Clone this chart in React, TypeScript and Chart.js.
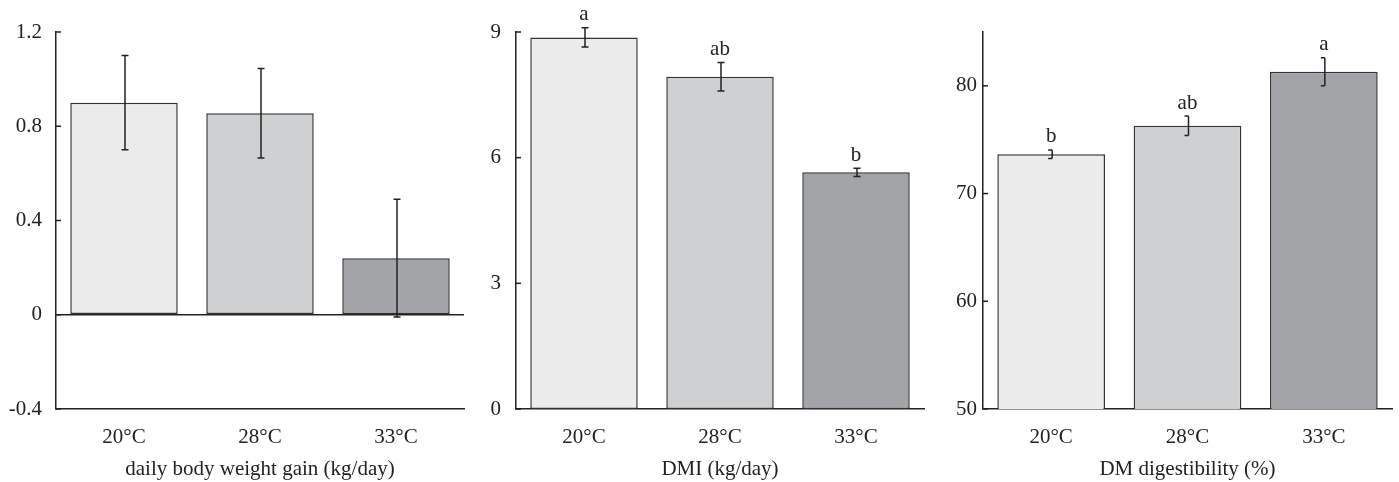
import React, { useEffect, useRef } from "react";
import { Chart, registerables } from "chart.js";

Chart.register(...registerables);

const categories = ["20°C", "28°C", "33°C"];
const barColors = ["#ececec", "#cfd0d2", "#a3a4a8"];

const gainValues = [0.9, 0.855, 0.24];
const gainErrors = [0.2, 0.19, 0.25];
const gainTicks = [-0.4, 0, 0.4, 0.8, 1.2];
const gainTickLabels = ["-0.4", "0", "0.4", "0.8", "1.2"];
const gainLetters = ["", "", ""];

const dmiValues = [8.87, 7.93, 5.65];
const dmiErrors = [0.23, 0.34, 0.1];
const dmiTicks = [0, 3, 6, 9];
const dmiTickLabels = ["0", "3", "6", "9"];
const dmiLetters = ["a", "ab", "b"];

const digValues = [73.65, 76.3, 81.3];
const digErrors = [0.4, 0.9, 1.3];
const digTicks = [50, 60, 70, 80];
const digTickLabels = ["50", "60", "70", "80"];
const digLetters = ["b", "ab", "a"];

const FONT = "'Liberation Serif', 'Times New Roman', serif";
const INK = "#222222";
const H = 482;
const FS = 21;

type Panel = {
  left: number;
  width: number;
  yWidth: number;
  padRight: number;
  min: number;
  max: number;
  ticks: number[];
  tickLabels: string[];
  labelPad: number;
  title: string;
  values: number[];
  errors: number[];
  letters: string[];
  zeroLine: boolean;
  halfCap: boolean;
};

const panels: Panel[] = [
  {
    left: 0, width: 470, yWidth: 56, padRight: 6, min: -0.4, max: 1.2,
    ticks: gainTicks, tickLabels: gainTickLabels, labelPad: 14,
    title: "daily body weight gain (kg/day)", values: gainValues, errors: gainErrors,
    letters: gainLetters, zeroLine: true, halfCap: false,
  },
  {
    left: 470, width: 460, yWidth: 46, padRight: 6, min: 0, max: 9,
    ticks: dmiTicks, tickLabels: dmiTickLabels, labelPad: 15,
    title: "DMI (kg/day)", values: dmiValues, errors: dmiErrors,
    letters: dmiLetters, zeroLine: false, halfCap: false,
  },
  {
    left: 930, width: 469, yWidth: 53, padRight: 7, min: 50, max: 85,
    ticks: digTicks, tickLabels: digTickLabels, labelPad: 6,
    title: "DM digestibility (%)", values: digValues, errors: digErrors,
    letters: digLetters, zeroLine: false, halfCap: true,
  },
];

function makeExtrasPlugin(p: Panel) {
  return {
    id: "extras",
    afterDraw(chart: any) {
      const ctx = chart.ctx;
      const ys = chart.scales.y;
      const area = chart.chartArea;
      ctx.save();
      ctx.strokeStyle = INK;
      ctx.lineWidth = 1.5;
      // inward tick marks
      ys.ticks.forEach((t: any) => {
        const py = ys.getPixelForValue(t.value);
        ctx.beginPath();
        ctx.moveTo(area.left, py);
        ctx.lineTo(area.left + 5, py);
        ctx.stroke();
      });
      // error bars and letters
      const meta = chart.getDatasetMeta(0);
      meta.data.forEach((el: any, i: number) => {
        const x = el.x + 1;
        const v = p.values[i];
        const e = p.errors[i];
        const yTop = ys.getPixelForValue(v + e);
        const yBot = ys.getPixelForValue(v - e);
        ctx.beginPath();
        ctx.moveTo(x, yTop);
        ctx.lineTo(x, yBot);
        if (p.halfCap) {
          ctx.moveTo(x - 4, yTop);
          ctx.lineTo(x, yTop);
          ctx.moveTo(x - 4, yBot);
          ctx.lineTo(x, yBot);
        } else {
          ctx.moveTo(x - 3.5, yTop);
          ctx.lineTo(x + 3.5, yTop);
          ctx.moveTo(x - 3.5, yBot);
          ctx.lineTo(x + 3.5, yBot);
        }
        ctx.stroke();
        const letter = p.letters[i];
        if (letter) {
          ctx.fillStyle = INK;
          ctx.font = `${FS}px ${FONT}`;
          ctx.textAlign = "center";
          ctx.textBaseline = "middle";
          ctx.fillText(letter, el.x, yTop - 13);
        }
      });
      ctx.restore();
    },
  };
}

function PanelChart({ p }: { p: Panel }) {
  const ref = useRef<HTMLCanvasElement | null>(null);
  useEffect(() => {
    if (!ref.current) return;
    const chart = new Chart(ref.current, {
      type: "bar",
      data: {
        labels: categories,
        datasets: [
          {
            data: p.values,
            backgroundColor: barColors,
            borderColor: "#333333",
            borderWidth: 1.5,
            borderSkipped: false,
            categoryPercentage: 1,
            barPercentage: 0.79,
          },
        ],
      },
      options: {
        responsive: false,
        animation: false,
        layout: { padding: { top: 32, right: p.padRight, left: 0, bottom: 0 } },
        plugins: { legend: { display: false }, tooltip: { enabled: false } },
        scales: {
          x: {
            grid: { display: false, drawTicks: false },
            border: { display: true, color: INK, width: 1.5 },
            ticks: { color: INK, font: { family: FONT, size: FS }, padding: 16, maxRotation: 0 },
            title: {
              display: true,
              text: p.title,
              color: INK,
              font: { family: FONT, size: FS },
              padding: { top: 0, bottom: 0 },
            },
            afterFit: (s: any) => { s.height = H - 409; },
          },
          y: {
            min: p.min,
            max: p.max,
            grid: {
              display: p.zeroLine,
              drawTicks: false,
              color: (c: any) => (c.tick && c.tick.value === 0 ? INK : "rgba(0,0,0,0)"),
              lineWidth: 1.5,
            },
            border: { display: true, color: INK, width: 1.5 },
            afterBuildTicks: (s: any) => { s.ticks = p.ticks.map((v) => ({ value: v })); },
            ticks: {
              color: INK,
              font: { family: FONT, size: FS },
              padding: p.labelPad,
              callback: (value: any) => {
                const idx = p.ticks.findIndex((t) => Math.abs(t - Number(value)) < 1e-9);
                return idx >= 0 ? p.tickLabels[idx] : "";
              },
            },
            afterFit: (s: any) => { s.width = p.yWidth; },
          },
        },
      },
      plugins: [makeExtrasPlugin(p)],
    } as any);
    return () => chart.destroy();
  }, [p]);
  return (
    <canvas
      ref={ref}
      width={p.width}
      height={H}
      style={{ position: "absolute", left: p.left, top: 0, width: p.width, height: H, display: "block" }}
    />
  );
}

export default function App() {
  return (
    <div style={{ position: "absolute", left: 0, top: 0, width: 1399, height: H, background: "#ffffff" }}>
      {panels.map((p, i) => (
        <PanelChart key={i} p={p} />
      ))}
    </div>
  );
}
